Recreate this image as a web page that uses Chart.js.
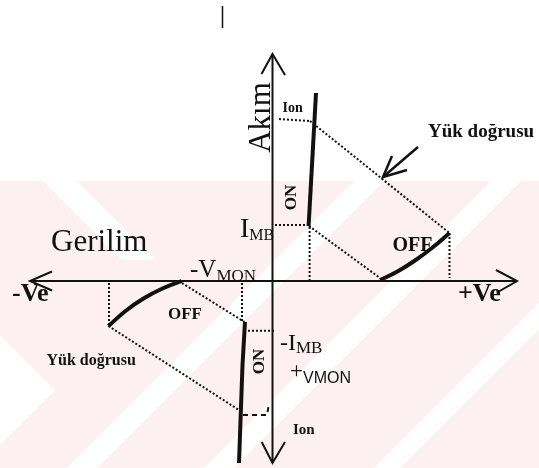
<!DOCTYPE html>
<html lang="tr">
<head>
<meta charset="UTF-8">
<title>Akım - Gerilim karakteristiği</title>
<script src="https://cdn.jsdelivr.net/npm/chart.js"></script>
<style>
  html, body { margin: 0; padding: 0; background: #fff; }
  #wrap { width: 539px; height: 468px; }
</style>
</head>
<body>
<div id="wrap"><canvas id="ivChart" width="539" height="468"></canvas></div>
<script>
// x = gerilim, y = akım (schematic units, origin at the axis crossing)
const xAxisLine = [{x: -24.25, y: 0}, {x: 24.45, y: 0}];
const yAxisLine = [{x: 0, y: 22.7}, {x: 0, y: -18.2}];
const arrowLeft = [{x: -22.05, y: 0.95}, {x: -24.25, y: 0}, {x: -22.05, y: -0.95}];
const arrowRight = [{x: 22.35, y: 1.1}, {x: 24.45, y: 0}, {x: 22.55, y: -1.1}];
const arrowTop = [{x: -1.1, y: 20.7}, {x: 0, y: 22.7}, {x: 1.25, y: 20.6}];
const arrowBottom = [{x: -1.08, y: -16.1}, {x: 0, y: -18.2}, {x: 1.25, y: -16.1}];

// first quadrant: ON branch, OFF branch, load line
const onUpper = [{x: 3.61, y: 5.5}, {x: 4.35, y: 18.8}];
const offUpper = [{x: 10.75, y: 0.1}, {x: 12.5, y: 0.95}, {x: 14.25, y: 2.05}, {x: 16.0, y: 3.35}, {x: 17.7, y: 4.8}];
const loadUpperA = [{x: 3.75, y: 16.0}, {x: 17.7, y: 4.8}];
const loadUpperB = [{x: 3.65, y: 5.5}, {x: 10.75, y: 0.3}];
const ionUpper = [{x: 0.65, y: 16.2}, {x: 3.75, y: 16.0}];
const imbUpper = [{x: 0.25, y: 5.6}, {x: 3.55, y: 5.6}];
const dropUpperA = [{x: 3.71, y: 5.4}, {x: 3.71, y: 0.1}];
const dropUpperB = [{x: 17.7, y: 4.8}, {x: 17.7, y: 0.3}];

// third quadrant
const onLower = [{x: -2.75, y: -4.1}, {x: -3.0, y: -8.4}, {x: -3.35, y: -18.2}];
const offLower = [{x: -9.1, y: 0}, {x: -11.0, y: -0.75}, {x: -12.9, y: -1.75}, {x: -14.7, y: -3.0}, {x: -16.4, y: -4.5}];
const loadLowerA = [{x: -9.05, y: -0.2}, {x: -2.8, y: -4.1}];
const loadLowerB = [{x: -16.4, y: -4.5}, {x: -3.05, y: -13.1}];
const imbLower = [{x: -2.45, y: -4.97}, {x: 0.25, y: -4.97}];
const ionLower = [{x: -2.95, y: -13.4}, {x: -0.55, y: -13.4}, {x: -0.35, y: -12.3}];
const dropLowerA = [{x: -3.05, y: -0.2}, {x: -3.05, y: -4.1}];
const dropLowerB = [{x: -16.35, y: -0.2}, {x: -16.35, y: -4.4}];

// pointer for "Yük doğrusu" and a stray mark at the top
const pointerShaft = [{x: 14.55, y: 13.4}, {x: 11.05, y: 10.4}];
const pointerHead = [{x: 11.95, y: 12.5}, {x: 11.05, y: 10.4}, {x: 13.45, y: 11.1}];
const topMark = [{x: -5.0, y: 27.5}, {x: -5.0, y: 25.3}];

function seg(data, width, dash, tension) {
  return {
    data: data,
    showLine: true,
    borderColor: '#111',
    borderWidth: width,
    borderDash: dash || [],
    tension: tension || 0,
    pointRadius: 0,
    fill: false
  };
}

const DOT = [2, 2];
const serif = '"Liberation Serif", "DejaVu Serif", serif';
const sans = '"Liberation Sans", Arial, sans-serif';

// text labels, anchored in data units
const labels = [
  {parts: [{t: 'Akım', f: '31px ' + serif}], x: -0.25, y: 16.35, rot: -Math.PI / 2, align: 'center'},
  {parts: [{t: 'Gerilim', f: '31px ' + serif}], x: -22.15, y: 3.0},
  {parts: [{t: 'I', f: '28px ' + serif}, {t: 'MB', f: '16px ' + serif, dy: 3}], x: -3.25, y: 4.4},
  {parts: [{t: '-V', f: '25px ' + serif}, {t: 'MON', f: '17px ' + serif, dy: 4}], x: -8.25, y: 0.4},
  {parts: [{t: '-I', f: '24px ' + serif}, {t: 'MB', f: '17px ' + serif, dy: 3}], x: 0.75, y: -6.9},
  {parts: [{t: '+', f: '23px ' + serif}, {t: 'VMON', f: '16px ' + sans, dy: 5}], x: 1.75, y: -9.7},
  {parts: [{t: 'Ion', f: 'bold 14px ' + serif}], x: 1.0, y: 16.9},
  {parts: [{t: 'Ion', f: 'bold 15px ' + serif}], x: 2.05, y: -15.3},
  {parts: [{t: 'ON', f: 'bold 17px ' + serif}], x: 1.9, y: 8.35, rot: -Math.PI / 2, align: 'center', base: 'middle'},
  {parts: [{t: 'ON', f: 'bold 17px ' + serif}], x: -1.25, y: -8.05, rot: -Math.PI / 2, align: 'center', base: 'middle'},
  {parts: [{t: 'OFF', f: 'bold 20px ' + serif}], x: 14.0, y: 3.0, align: 'center'},
  {parts: [{t: 'OFF', f: 'bold 17px ' + serif}], x: -8.75, y: -3.8, align: 'center'},
  {parts: [{t: '-Ve', f: 'bold 26px ' + serif}], x: -26.05, y: -2.0},
  {parts: [{t: '+Ve', f: 'bold 26px ' + serif}], x: 18.55, y: -2.0},
  {parts: [{t: 'Yük doğrusu', f: 'bold 19px ' + serif}], x: 15.55, y: 14.4},
  {parts: [{t: 'Yük doğrusu', f: 'bold 16px ' + serif}], x: -22.6, y: -8.4}
];

// faint background pattern in the lower part of the page
const backdrop = {
  id: 'backdrop',
  beforeDraw(chart) {
    const {ctx, width, height} = chart;
    const top = 181;
    ctx.save();
    ctx.fillStyle = '#fff';
    ctx.fillRect(0, 0, width, height);
    ctx.beginPath();
    ctx.rect(0, top, width, height - top);
    ctx.clip();
    ctx.fillStyle = '#fdf0f2';
    ctx.fillRect(0, top, width, height - top);
    ctx.fillStyle = '#fff';
    [[535, 565], [672, 702], [842, 868]].forEach(([a, b]) => {
      ctx.beginPath();
      ctx.moveTo(a, 0); ctx.lineTo(b, 0);
      ctx.lineTo(b - 900, 900); ctx.lineTo(a - 900, 900);
      ctx.fill();
    });
    ctx.beginPath();
    ctx.moveTo(43, top); ctx.lineTo(77, top); ctx.lineTo(156, 260); ctx.lineTo(122, 260);
    ctx.fill();
    ctx.beginPath();
    ctx.moveTo(0, 335); ctx.lineTo(55, 390); ctx.lineTo(0, 445);
    ctx.fill();
    ctx.restore();
  }
};

const textLabels = {
  id: 'textLabels',
  afterDatasetsDraw(chart) {
    const {ctx, scales} = chart;
    ctx.save();
    ctx.fillStyle = '#111';
    labels.forEach(l => {
      const px = scales.x.getPixelForValue(l.x);
      const py = scales.y.getPixelForValue(l.y);
      ctx.save();
      ctx.translate(px, py);
      if (l.rot) ctx.rotate(l.rot);
      ctx.textBaseline = l.base || 'alphabetic';
      let total = 0;
      l.parts.forEach(p => { ctx.font = p.f; total += ctx.measureText(p.t).width; });
      let cx = l.align === 'center' ? -total / 2 : 0;
      ctx.textAlign = 'left';
      l.parts.forEach(p => {
        ctx.font = p.f;
        ctx.fillText(p.t, cx, p.dy || 0);
        cx += ctx.measureText(p.t).width;
      });
      ctx.restore();
    });
    ctx.restore();
  }
};

new Chart(document.getElementById('ivChart'), {
  type: 'scatter',
  data: {
    datasets: [
      seg(xAxisLine, 2), seg(yAxisLine, 2),
      seg(arrowLeft, 2), seg(arrowRight, 2), seg(arrowTop, 2), seg(arrowBottom, 2),
      seg(onUpper, 4), seg(offUpper, 4, null, 0.4),
      seg(loadUpperA, 2, DOT), seg(loadUpperB, 2, DOT),
      seg(ionUpper, 2, DOT), seg(imbUpper, 2, DOT),
      seg(dropUpperA, 2, DOT), seg(dropUpperB, 2, DOT),
      seg(onLower, 4), seg(offLower, 4, null, 0.4),
      seg(loadLowerA, 2, DOT), seg(loadLowerB, 2, DOT),
      seg(imbLower, 2, DOT), seg(ionLower, 2, [5, 4]),
      seg(dropLowerA, 2, DOT), seg(dropLowerB, 2, DOT),
      seg(pointerShaft, 2.5), seg(pointerHead, 2.5),
      seg(topMark, 1.5)
    ]
  },
  options: {
    responsive: false,
    animation: false,
    layout: {padding: 0},
    plugins: {legend: {display: false}, tooltip: {enabled: false}},
    scales: {
      x: {type: 'linear', min: -27.25, max: 26.65, display: false},
      y: {type: 'linear', min: -18.7, max: 28.1, display: false}
    }
  },
  plugins: [backdrop, textLabels]
});
</script>
</body>
</html>
